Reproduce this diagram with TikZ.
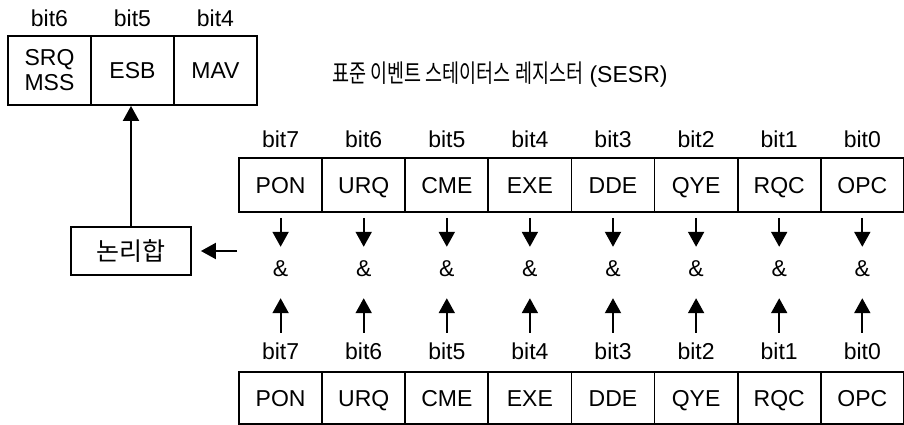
\documentclass[tikz,border=0pt]{standalone}
\usepackage{fontspec}
\setmainfont{Liberation Sans}
\newfontfamily\krfont{Noto Sans CJK KR}
\newfontfamily\krnarrow[FakeStretch=0.74]{Noto Sans CJK KR}
\usepackage{tikz}
\usetikzlibrary{arrows.meta,positioning}
\tikzset{
  cell/.style    ={draw,line width=1.8pt,inner sep=0pt,minimum width=83.1pt,
                   minimum height=54pt,align=center},
  flat/.style    ={text height=16.6pt,text depth=0pt},
  bitlbl/.style  ={inner sep=0pt},
  ampnode/.style ={inner sep=0pt,minimum height=44pt},
  logicbox/.style={draw,line width=1.8pt,inner sep=0pt,minimum width=120pt,
                   minimum height=48pt},
  flow/.style    ={-{Triangle[length=15pt,width=16pt]},line width=2pt}
}

\begin{document}
\begin{tikzpicture}[x=1pt,y=-1pt,font=\fontsize{23}{25}\selectfont]
    \useasboundingbox (0,0) rectangle (904,425);
    % --- status byte, bit6..bit4 ---
    \node[cell,minimum width=83pt,minimum height=69pt] (sb6) at (49.5,70.5) {SRQ\\MSS};
    \node[cell,flat,minimum width=83pt,minimum height=69pt] (sb5) at (132.5,70.5) {ESB};
    \node[cell,flat,minimum width=83pt,minimum height=69pt] (sb4) at (215.5,70.5) {MAV};
    \foreach \bitno in {6,5,4}
      \node[bitlbl] (sbl\bitno) at (sb\bitno |- 0,18.5) {bit\bitno};
    % --- logic sum ---
    \node[logicbox] (logic) at (131,251) {\krfont\fontsize{25}{27}\selectfont 논리합};
    \draw[flow] (logic.north) -- (logic.north |- sb5.south);
    \coordinate (orin) at (237,251);
    \draw[flow,shorten >=9pt] (orin) -- (logic);
    % --- title ---
    \node (title) at (500,75)
      {{\krnarrow\fontsize{25}{27}\selectfont 표준 이벤트 스테이터스 레지스터} (SESR)};
    % --- SESR (top) and enable register (bottom) ---
    \foreach \name [count=\k from 0] in {PON,URQ,CME,EXE,DDE,QYE,RQC,OPC} {
      \pgfmathtruncatemacro\bitno{7-\k}
      \node[cell,flat] (ev\bitno) at ({280.6+83.1*\k},185) {\name};
      \node[bitlbl] (evl\bitno) at (ev\bitno |- 0,139) {bit\bitno};
      \node[ampnode] (amp\bitno) at (ev\bitno |- 0,269) {\&};
      \node[bitlbl] (enl\bitno) at (ev\bitno |- 0,351) {bit\bitno};
      \node[cell,flat,minimum height=52pt] (en\bitno) at (ev\bitno |- 0,398) {\name};
      \draw[flow,shorten <=5pt] (ev\bitno) -- (amp\bitno);
      \draw[flow,shorten <=9.6pt,shorten >=7pt] (enl\bitno) -- (amp\bitno);
    }
\end{tikzpicture}
\end{document}
